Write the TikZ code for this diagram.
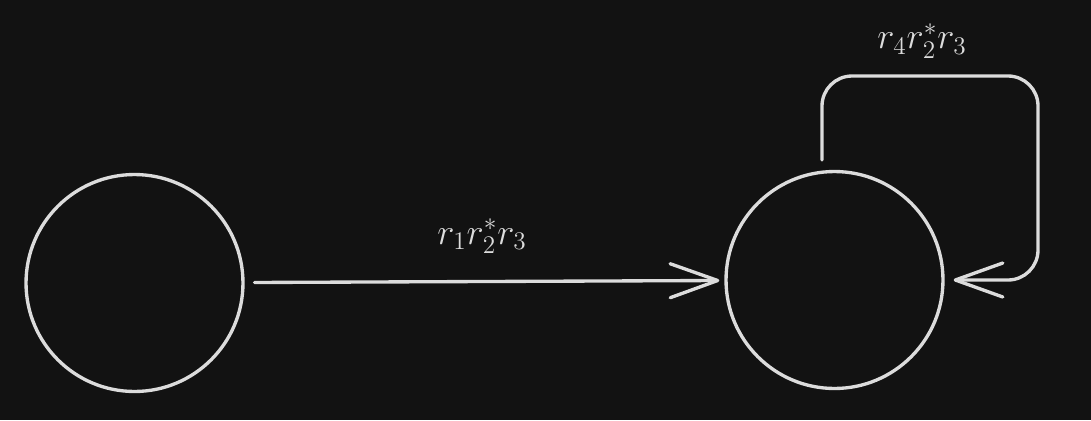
\documentclass[tikz,border=0pt]{standalone}
\usetikzlibrary{arrows.meta}
\definecolor{bgdark}{HTML}{121212}
\definecolor{linegray}{HTML}{DCDCDC}
\begin{document}
\begin{tikzpicture}[x=0.02cm,y=-0.02cm,
		state/.style={draw=linegray,line width=1.9pt,circle,minimum size=4.34cm,inner sep=0pt},
		edge/.style={draw=linegray,line width=1.9pt,line cap=round,-{Straight Barb[length=0.95cm,width=0.68cm,line width=1.9pt,round]}},
		lbl/.style={text=linegray,font=\huge}]
		\fill [bgdark] (0,0) rectangle (1091,420);
		\useasboundingbox (0,0) rectangle (1091,420);
		\node [state] (q0) at (134.5,283) {};
		\node [state] (q1) at (834.5,280) {};
		\coordinate (loopstart) at (822,160);
		\coordinate (loopcorner) at (1038,76);
		\draw [edge,shorten <=10*0.02cm,shorten >=5*0.02cm] (q0) -- (q1);
		\draw [edge,rounded corners=0.6cm,shorten >=9*0.02cm] (loopstart) |- (loopcorner) |- (q1);
		\node [lbl] (l01) at (482,236) {$r_1r_2^*r_3$};
		\node [lbl] (l11) at (922,41) {$r_4r_2^*r_3$};
	\end{tikzpicture}
\end{document}
